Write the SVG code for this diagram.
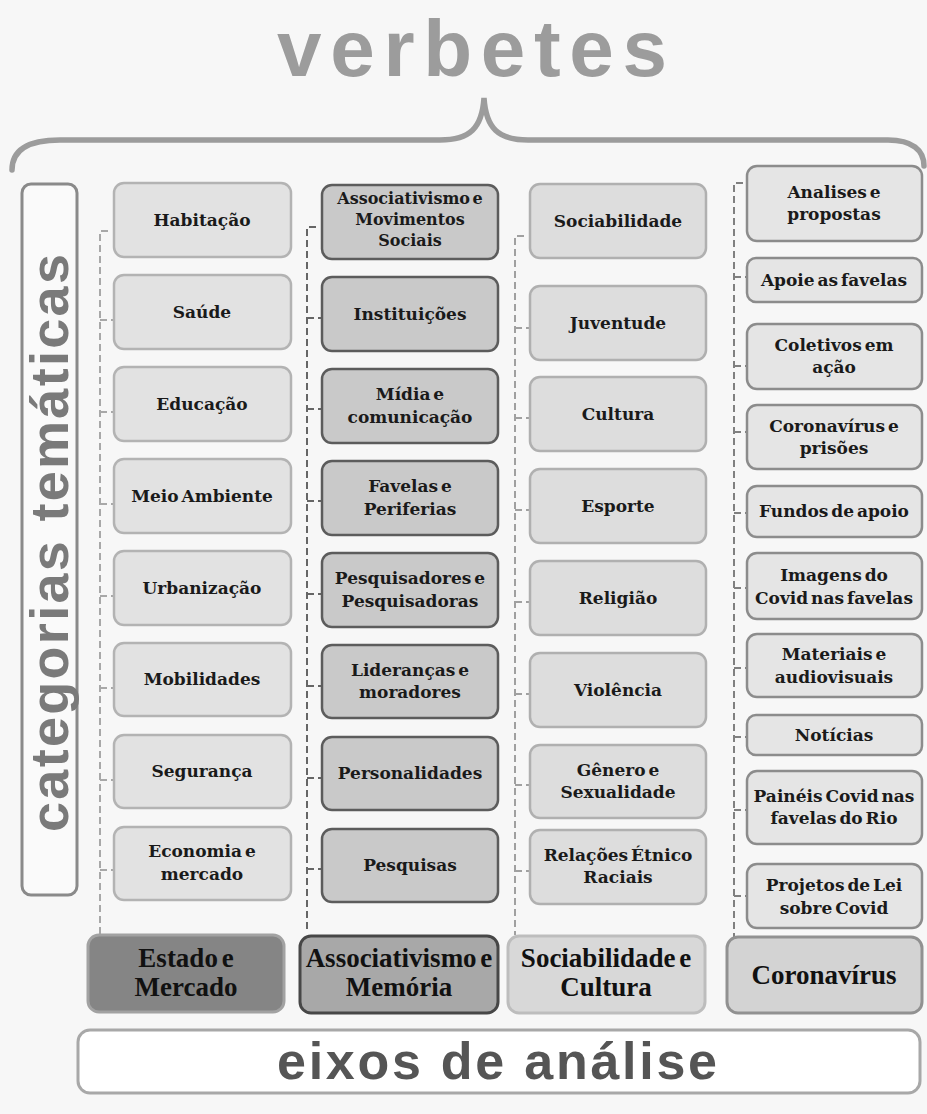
<svg xmlns="http://www.w3.org/2000/svg" width="927" height="1114" viewBox="0 0 927 1114">
<style>
.t{font-family:"DejaVu Serif","Liberation Serif",serif;font-weight:bold;font-size:17px;fill:#1a1a1a;text-anchor:middle;word-spacing:-3px}
.t3{font-size:16px}
.b{font-family:"Liberation Serif",serif;font-weight:bold;font-size:27px;fill:#111;text-anchor:middle;word-spacing:-3px}
.c1{fill:#e2e2e2;stroke:#b3b3b3;stroke-width:2.5}
.c2{fill:#c9c9c9;stroke:#5c5c5c;stroke-width:2.5}
.c3{fill:#dddddd;stroke:#b0b0b0;stroke-width:2.5}
.c4{fill:#e5e5e5;stroke:#8c8c8c;stroke-width:2.5}
.dash{fill:none;stroke-width:2;stroke-dasharray:7 4}
.d1{stroke:#a8a8a8}.d2{stroke:#666}.d3{stroke:#a0a0a0}.d4{stroke:#808080}
.title{font-family:"Liberation Sans",Arial,sans-serif;font-weight:bold}
</style>
<rect width="927" height="1114" fill="#f7f7f7"/>

<g id="title">
<text class="title" x="472" y="76" font-size="80" fill="#9c9c9c" text-anchor="middle" textLength="390" lengthAdjust="spacing">verbetes</text>
<path d="M12 170 C12 150 28 140 60 140 L440 140 C470 140 482 128 484 98 C486 128 498 140 528 140 L888 140 C912 140 924 150 924 166" fill="none" stroke="#9c9c9c" stroke-width="5.5" stroke-linecap="round"/>
</g>

<g id="categorias">
<rect x="22" y="184" width="55" height="711" rx="9" fill="#fafafa" stroke="#8a8a8a" stroke-width="3"/>
<text class="title" transform="translate(68,543) rotate(-90)" x="0" y="0" font-size="54" fill="#7a7a7a" text-anchor="middle" textLength="578" lengthAdjust="spacing">categorias temáticas</text>
</g>

<g id="connectors">
<path class="dash d1" d="M108 231 H100 V935 M100 320 H114 M100 412 H114 M100 504 H114 M100 596 H114 M100 688 H114 M100 780 H114 M100 870 H114"/>
<path class="dash d2" d="M316 227 H307 V932 M307 318 H322 M307 409 H322 M307 501 H322 M307 594 H322 M307 686 H322 M307 778 H322 M307 869 H322"/>
<path class="dash d3" d="M524 236 H515 V935 M515 328 H530 M515 418 H530 M515 510 H530 M515 602 H530 M515 694 H530 M515 785 H530 M515 871 H530"/>
<path class="dash d4" d="M743 183 H734 V937 M734 277 H747 M734 366 H747 M734 432 H747 M734 513 H747 M734 588 H747 M734 668 H747 M734 737 H747 M734 810 H747 M734 896 H747"/>
</g>

<g id="col1">
<g id="habitacao"><rect class="c1" x="114" y="183" width="177" height="74" rx="10"/><text class="t" x="202" y="226">Habitação</text></g>
<g id="saude"><rect class="c1" x="114" y="275" width="177" height="74" rx="10"/><text class="t" x="202" y="318">Saúde</text></g>
<g id="educacao"><rect class="c1" x="114" y="367" width="177" height="74" rx="10"/><text class="t" x="202" y="410">Educação</text></g>
<g id="meio-ambiente"><rect class="c1" x="114" y="459" width="177" height="74" rx="10"/><text class="t" x="202" y="502">Meio Ambiente</text></g>
<g id="urbanizacao"><rect class="c1" x="114" y="551" width="177" height="74" rx="10"/><text class="t" x="202" y="594">Urbanização</text></g>
<g id="mobilidades"><rect class="c1" x="114" y="643" width="177" height="73" rx="10"/><text class="t" x="202" y="685">Mobilidades</text></g>
<g id="seguranca"><rect class="c1" x="114" y="735" width="177" height="73" rx="10"/><text class="t" x="202" y="777">Segurança</text></g>
<g id="economia"><rect class="c1" x="114" y="827" width="177" height="73" rx="10"/><text class="t" x="202" y="857">Economia e</text><text class="t" x="202" y="880">mercado</text></g>
</g>

<g id="col2">
<g id="assoc-mov"><rect class="c2" x="322" y="185" width="176" height="74" rx="10"/><text class="t t3" x="410" y="204">Associativismo e</text><text class="t t3" x="410" y="225">Movimentos</text><text class="t t3" x="410" y="246">Sociais</text></g>
<g id="instituicoes"><rect class="c2" x="322" y="277" width="176" height="74" rx="10"/><text class="t" x="410" y="320">Instituições</text></g>
<g id="midia"><rect class="c2" x="322" y="369" width="176" height="74" rx="10"/><text class="t" x="410" y="400">Mídia e</text><text class="t" x="410" y="423">comunicação</text></g>
<g id="favelas"><rect class="c2" x="322" y="461" width="176" height="74" rx="10"/><text class="t" x="410" y="492">Favelas e</text><text class="t" x="410" y="515">Periferias</text></g>
<g id="pesquisadores"><rect class="c2" x="322" y="553" width="176" height="74" rx="10"/><text class="t" x="410" y="584">Pesquisadores e</text><text class="t" x="410" y="607">Pesquisadoras</text></g>
<g id="liderancas"><rect class="c2" x="322" y="645" width="176" height="73" rx="10"/><text class="t" x="410" y="676">Lideranças e</text><text class="t" x="410" y="698">moradores</text></g>
<g id="personalidades"><rect class="c2" x="322" y="737" width="176" height="73" rx="10"/><text class="t" x="410" y="779">Personalidades</text></g>
<g id="pesquisas"><rect class="c2" x="322" y="829" width="176" height="73" rx="10"/><text class="t" x="410" y="871">Pesquisas</text></g>
</g>

<g id="col3">
<g id="sociabilidade"><rect class="c3" x="530" y="184" width="176" height="74" rx="10"/><text class="t" x="618" y="227">Sociabilidade</text></g>
<g id="juventude"><rect class="c3" x="530" y="286" width="176" height="74" rx="10"/><text class="t" x="618" y="329">Juventude</text></g>
<g id="cultura"><rect class="c3" x="530" y="377" width="176" height="74" rx="10"/><text class="t" x="618" y="420">Cultura</text></g>
<g id="esporte"><rect class="c3" x="530" y="469" width="176" height="74" rx="10"/><text class="t" x="618" y="512">Esporte</text></g>
<g id="religiao"><rect class="c3" x="530" y="561" width="176" height="74" rx="10"/><text class="t" x="618" y="604">Religião</text></g>
<g id="violencia"><rect class="c3" x="530" y="653" width="176" height="74" rx="10"/><text class="t" x="618" y="696">Violência</text></g>
<g id="genero"><rect class="c3" x="530" y="745" width="176" height="73" rx="10"/><text class="t" x="618" y="776">Gênero e</text><text class="t" x="618" y="798">Sexualidade</text></g>
<g id="relacoes"><rect class="c3" x="530" y="830" width="176" height="74" rx="10"/><text class="t" x="618" y="861">Relações Étnico</text><text class="t" x="618" y="883">Raciais</text></g>
</g>

<g id="col4">
<g id="analises"><rect class="c4" x="747" y="166" width="175" height="75" rx="10"/><text class="t" x="834" y="198">Analises e</text><text class="t" x="834" y="220">propostas</text></g>
<g id="apoie"><rect class="c4" x="747" y="258" width="175" height="44" rx="9"/><text class="t" x="834" y="286">Apoie as favelas</text></g>
<g id="coletivos"><rect class="c4" x="747" y="324" width="175" height="65" rx="10"/><text class="t" x="834" y="351">Coletivos em</text><text class="t" x="834" y="373">ação</text></g>
<g id="coronavirus-prisoes"><rect class="c4" x="747" y="405" width="175" height="64" rx="10"/><text class="t" x="834" y="432">Coronavírus e</text><text class="t" x="834" y="454">prisões</text></g>
<g id="fundos"><rect class="c4" x="747" y="486" width="175" height="51" rx="10"/><text class="t" x="834" y="517">Fundos de apoio</text></g>
<g id="imagens"><rect class="c4" x="747" y="553" width="175" height="66" rx="10"/><text class="t" x="834" y="581">Imagens do</text><text class="t" x="834" y="604">Covid nas favelas</text></g>
<g id="materiais"><rect class="c4" x="747" y="634" width="175" height="63" rx="10"/><text class="t" x="834" y="660">Materiais e</text><text class="t" x="834" y="683">audiovisuais</text></g>
<g id="noticias"><rect class="c4" x="747" y="715" width="175" height="40" rx="9"/><text class="t" x="834" y="741">Notícias</text></g>
<g id="paineis"><rect class="c4" x="747" y="771" width="175" height="73" rx="10"/><text class="t" x="834" y="802">Painéis Covid nas</text><text class="t" x="834" y="824">favelas do Rio</text></g>
<g id="projetos"><rect class="c4" x="747" y="864" width="175" height="64" rx="10"/><text class="t" x="834" y="891">Projetos de Lei</text><text class="t" x="834" y="914">sobre Covid</text></g>
</g>

<g id="eixos">
<g id="estado"><rect x="88" y="935" width="196" height="77" rx="11" fill="#858585" stroke="#a2a2a2" stroke-width="3"/><text class="b" x="186" y="967">Estado e</text><text class="b" x="186" y="996">Mercado</text></g>
<g id="assoc-memoria"><rect x="300" y="936" width="198" height="77" rx="11" fill="#a8a8a8" stroke="#474747" stroke-width="3"/><text class="b" x="399" y="967">Associativismo e</text><text class="b" x="399" y="996">Memória</text></g>
<g id="sociab-cultura"><rect x="508" y="936" width="197" height="77" rx="11" fill="#d8d8d8" stroke="#bdbdbd" stroke-width="3"/><text class="b" x="606" y="967">Sociabilidade e</text><text class="b" x="606" y="996">Cultura</text></g>
<g id="coronavirus"><rect x="727" y="937" width="195" height="76" rx="11" fill="#d3d3d3" stroke="#919191" stroke-width="3"/><text class="b" x="824" y="984">Coronavírus</text></g>
</g>

<g id="eixos-label">
<rect x="78" y="1030" width="842" height="63" rx="12" fill="#ffffff" stroke="#a8a8a8" stroke-width="3"/>
<text class="title" x="497" y="1079" font-size="52" fill="#555555" text-anchor="middle" textLength="440" lengthAdjust="spacing">eixos de análise</text>
</g>
</svg>
